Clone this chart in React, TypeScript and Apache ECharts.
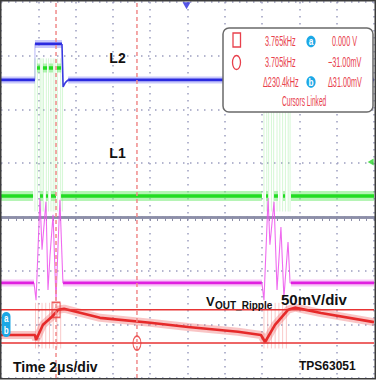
import React, { useEffect, useRef } from "react";
import * as echarts from "echarts";

// Time axis in microseconds (2 µs/div, 10 divisions); vertical axis in screen divisions (centre line = 0)
const timeRange = [0, 20];
const divRange = [-3, 4];

// L2 (blue)
const blueLow = 2.55;
const blueHigh = 3.22;
const blueLowSpans: number[][] = [[0, 1.82], [3.6, 13.99], [15.7, 20]];
const blueHighSpans: number[][] = [[1.82, 3.27], [14.0, 15.5]];
const blueFall1: number[][] = [[3.27, 3.22], [3.33, 2.42], [3.45, 2.5], [3.6, 2.55]];
const blueFall2: number[][] = [[15.5, 3.22], [15.56, 2.42], [15.62, 2.5], [15.7, 2.55]];
const blueRises: number[] = [1.82, 14.0];

// L1 (green)
const greenLow = 0.39;
const greenHigh = 2.77;
const greenLowSpans: number[][] = [
  [0, 1.72], [2.09, 2.25], [2.41, 2.52], [2.68, 2.95], [3.22, 13.99],
  [14.21, 14.32], [14.64, 14.85], [15.12, 15.23], [15.55, 20],
];
const greenHighSpans: number[][] = [
  [1.93, 2.09], [2.25, 2.47], [2.57, 2.79], [3.0, 3.22],
  [14.1, 14.25], [14.4, 14.6], [14.8, 15.0], [15.2, 15.45],
];
const greenEdges: number[] = [
  1.82, 1.95, 2.1, 2.2, 2.28, 2.43, 2.55, 2.68, 2.8, 2.9, 3.02, 3.2, 3.3,
  14.1, 14.25, 14.35, 14.5, 14.62, 14.8, 14.95, 15.1, 15.25, 15.4, 15.5,
];

// Inductor current (magenta)
const magentaLevel = -1.23;
const magentaSpans: number[][] = [[0, 1.77], [3.32, 13.99], [15.55, 20]];
const magentaBurst1: number[][] = [
  [1.77, -1.23], [1.88, -1.55], [2.09, 0.35], [2.2, -0.61], [2.41, 0.28], [2.52, -1.36],
  [2.63, -0.71], [2.79, 0.04], [2.95, -1.55], [3.06, -0.52], [3.16, 0.32], [3.32, -1.23],
];
const magentaBurst2: number[][] = [
  [13.99, -1.23], [14.1, -1.55], [14.32, 0.35], [14.42, -0.52], [14.64, 0.28], [14.8, -1.36],
  [15.01, -0.19], [15.17, -1.5], [15.39, -0.47], [15.5, -1.23], [15.55, -1.23],
];

// VOUT ripple (red)
const redTrace: number[][] = [
  [0, -2.2], [1.82, -2.2], [1.88, -2.29], [2.25, -2.01], [2.73, -1.86], [3.06, -1.73], [3.38, -1.71],
  [5.31, -1.88], [8.0, -1.97], [10.03, -2.05], [12.71, -2.14], [13.94, -2.2], [14.16, -2.33],
  [14.69, -2.01], [15.39, -1.73], [15.76, -1.69], [17.16, -1.79], [20, -1.96],
];
const redSpikeTimes: number[] = [1.85, 2.0, 2.2, 2.4, 2.6, 2.8, 3.0, 3.2, 14.1, 14.3, 14.5, 14.7, 14.9, 15.1, 15.3];

// Cursors
const cursorTimes = [2.95, 7.29];
const cursorLevels = [-1.73, -2.35];
const triggerPos = [9.95, 3.93];
const l1Marker = [19.82, 1.02];

// Cursor readout
const readoutFreq = ["3.765kHz", "3.705kHz", "\u0394230.4kHz"];
const readoutVolt = ["0.000 V", "\u221231.00mV", "\u039431.00mV"];

const GAP = [NaN, NaN];
const joinSegs = (segs: number[][][]) =>
  segs.reduce((acc: number[][], s, i) => (i ? acc.concat([GAP], s) : acc.concat(s)), []);
const spansAt = (spans: number[][], lvl: number) => joinSegs(spans.map((s) => [[s[0], lvl], [s[1], lvl]]));
const verticals = (ts: number[], a: number, b: number) => joinSegs(ts.map((t) => [[t, a], [t, b]]));

const line = (data: number[][], color: string, width: number, z = 2, extra: any = {}) => ({
  type: "line",
  data,
  symbol: "none",
  z,
  silent: true,
  connectNulls: false,
  lineStyle: { color, width, cap: "butt", ...extra },
});

const SANS = '"Liberation Sans", Arial, sans-serif';
const readRed = "#e8404c";

export default function App() {
  const ref = useRef<HTMLDivElement>(null);
  useEffect(() => {
    if (!ref.current) return;
    const chart = echarts.init(ref.current, undefined, { renderer: "svg" });

    const gridDot = { color: "#9c9ec0", type: [1.5, 5.5], width: 1.5 };
    const centreColor = "#8c8ea8";

    const texts: any[] = [];
    const T = (x: number, y: number, text: string, size: number, fill: string, opts: any = {}) =>
      texts.push({
        type: "text",
        x,
        y,
        z: 110,
        scaleX: opts.scaleX ?? 1,
        style: {
          text,
          fill,
          fontSize: size,
          fontFamily: SANS,
          fontWeight: opts.weight ?? "bold",
          align: opts.align ?? "left",
          verticalAlign: "middle",
        },
      });

    // plot labels
    T(117.5, 58, "L2", 14, "#111", { align: "center" });
    T(117.5, 153, "L1", 14, "#111", { align: "center" });
    T(206, 301.5, "V", 13, "#111");
    T(215, 305.5, "OUT_Ripple", 10, "#111");
    T(281, 299, "50mV/div", 15, "#111");
    T(13, 367, "Time 2\u03bcs/div", 14, "#111");
    T(299, 366, "TPS63051", 12, "#111");

    // readout
    const rowY = [41, 62, 82];
    readoutFreq.forEach((s, i) => T(i === 2 ? 263 : 265, rowY[i], s, 14, readRed, { weight: "normal", scaleX: 0.52 }));
    readoutVolt.forEach((s, i) => T(i === 0 ? 332 : 328, rowY[i], s, 14, readRed, { weight: "normal", scaleX: 0.52 }));
    T(282, 101, "Cursors Linked", 14, readRed, { weight: "normal", scaleX: 0.47 });

    const badge = (cx: number, cy: number, letter: string) => [
      { type: "ellipse", z: 105, shape: { cx, cy, rx: 4.6, ry: 5.8 }, style: { fill: "#1ca8e6" } },
      {
        type: "text", x: cx, y: cy, z: 106, scaleX: 0.75,
        style: { text: letter, fill: "#fff", fontSize: 11, fontFamily: SANS, fontWeight: "bold", align: "center", verticalAlign: "middle" },
      },
    ];

    const graphics: any[] = [
      {
        type: "rect", z: 100,
        shape: { x: 223, y: 28, width: 150, height: 84, r: 6 },
        style: { fill: "#ffffff", stroke: "#6a6a6a", lineWidth: 1.5 },
      },
      { type: "rect", z: 105, shape: { x: 233, y: 33, width: 7.5, height: 14 }, style: { fill: "none", stroke: readRed, lineWidth: 1.3 } },
      { type: "ellipse", z: 105, shape: { cx: 236.5, cy: 62.5, rx: 4, ry: 7 }, style: { fill: "none", stroke: readRed, lineWidth: 1.3 } },
      ...badge(311, 41.5, "a"),
      ...badge(311, 82, "b"),
      // channel a/b marker at left
      { type: "rect", z: 105, shape: { x: 2, y: 312, width: 8.5, height: 25, r: 4.2 }, style: { fill: "#1ca8e6" } },
      {
        type: "text", x: 6.3, y: 319, z: 106, scaleX: 0.8,
        style: { text: "a", fill: "#fff", fontSize: 10, fontFamily: SANS, fontWeight: "bold", align: "center", verticalAlign: "middle" },
      },
      {
        type: "text", x: 6.3, y: 330.5, z: 106, scaleX: 0.8,
        style: { text: "b", fill: "#fff", fontSize: 10, fontFamily: SANS, fontWeight: "bold", align: "center", verticalAlign: "middle" },
      },
      ...texts,
      {
        type: "rect", z: 120,
        shape: { x: 0.75, y: 0.75, width: 374.5, height: 378 },
        style: { fill: "none", stroke: "#3c3c3c", lineWidth: 1.5 },
      },
    ];

    const xBase = {
      type: "value",
      min: timeRange[0],
      max: timeRange[1],
      interval: 2,
      axisLabel: { show: false },
      axisLine: { show: true, onZero: true, onZeroAxisIndex: 0, lineStyle: { color: centreColor, width: 2.5 } },
      axisTick: { show: true, length: 4, lineStyle: { color: centreColor, width: 1 } },
      minorTick: { show: true, splitNumber: 5, length: 4, lineStyle: { color: centreColor, width: 1 } },
    };

    const blueLowData = spansAt(blueLowSpans, blueLow);
    const blueHighData = spansAt(blueHighSpans, blueHigh);
    const blueFalls = joinSegs([blueFall1, blueFall2]);

    chart.setOption({
      animation: false,
      backgroundColor: "#ffffff",
      grid: { left: 1, right: 2, top: 2, bottom: 2, show: false },
      xAxis: [
        { ...xBase, splitLine: { show: true, lineStyle: gridDot } },
        { ...xBase, axisTick: { ...xBase.axisTick, inside: true }, minorTick: { ...xBase.minorTick }, splitLine: { show: false } },
      ],
      yAxis: {
        type: "value",
        min: divRange[0],
        max: divRange[1],
        interval: 1,
        axisLabel: { show: false },
        axisLine: { show: false },
        axisTick: { show: false },
        splitLine: { show: true, lineStyle: gridDot },
      },
      series: [
        // green switching edges (faint)
        line(verticals(greenEdges, 2.95, 0.1), "rgba(150,235,150,0.4)", 1, 2),
        // magenta
        line(spansAt(magentaSpans, magentaLevel), "rgba(240,150,240,0.5)", 7, 3),
        line(spansAt(magentaSpans, magentaLevel), "#e020e0", 2.8, 4),
        line(magentaBurst1, "rgba(236,80,236,0.85)", 1.1, 4),
        line(magentaBurst2, "rgba(236,80,236,0.85)", 1.1, 4),
        // green
        line(spansAt(greenLowSpans, greenLow), "rgba(120,235,120,0.55)", 10, 5),
        line(spansAt(greenLowSpans, greenLow), "#22dc22", 3.5, 6),
        line(spansAt(greenHighSpans, greenHigh), "rgba(120,235,120,0.55)", 9, 5),
        line(spansAt(greenHighSpans, greenHigh), "#22dc22", 3.5, 6),
        // blue
        line(blueLowData, "rgba(120,120,245,0.4)", 7, 5),
        line(blueLowData, "#2a2ae0", 2.6, 6),
        line(blueHighData, "rgba(120,120,245,0.4)", 8, 5),
        line(blueHighData, "#2a2ae0", 2.6, 6),
        line(verticals(blueRises, blueLow, blueHigh), "rgba(90,90,235,0.45)", 1, 6),
        line(blueFalls, "#3a3ae0", 1.6, 6),
        // red
        line(verticals(redSpikeTimes, -1.6, -2.45), "rgba(240,120,120,0.4)", 1, 5),
        line(redTrace, "rgba(240,110,110,0.4)", 8, 5),
        line(redTrace, "#e62a2a", 2.6, 6),
        // cursors
        line(joinSegs(cursorLevels.map((v) => [[timeRange[0], v], [timeRange[1], v]])), "#e83434", 1.5, 8),
        line(joinSegs(cursorTimes.map((t) => [[t, divRange[0]], [t, divRange[1]]])), "#f08a8a", 1.5, 8, { type: [4, 3] }),
        {
          type: "scatter", z: 9, silent: true,
          data: [[cursorTimes[0], cursorLevels[0]]],
          symbol: "rect", symbolSize: [8, 15],
          itemStyle: { color: "rgba(0,0,0,0)", borderColor: "#e83434", borderWidth: 1.3 },
        },
        {
          type: "scatter", z: 9, silent: true,
          data: [[cursorTimes[1], cursorLevels[1]]],
          symbol: "circle", symbolSize: [8, 14],
          itemStyle: { color: "rgba(0,0,0,0)", borderColor: "#e83434", borderWidth: 1.3 },
        },
        {
          type: "scatter", z: 9, silent: true,
          data: [triggerPos],
          symbol: "triangle", symbolRotate: 180, symbolSize: [8, 7],
          itemStyle: { color: "#2a2ae0" },
        },
        {
          type: "scatter", z: 9, silent: true,
          data: [l1Marker],
          symbol: "triangle", symbolRotate: 90, symbolSize: [7, 6],
          itemStyle: { color: "#2ad52a" },
        },
      ],
      graphic: graphics,
    });
    return () => chart.dispose();
  }, []);

  return <div ref={ref} style={{ position: "absolute", left: 0, top: 0, width: 376, height: 380 }} />;
}
